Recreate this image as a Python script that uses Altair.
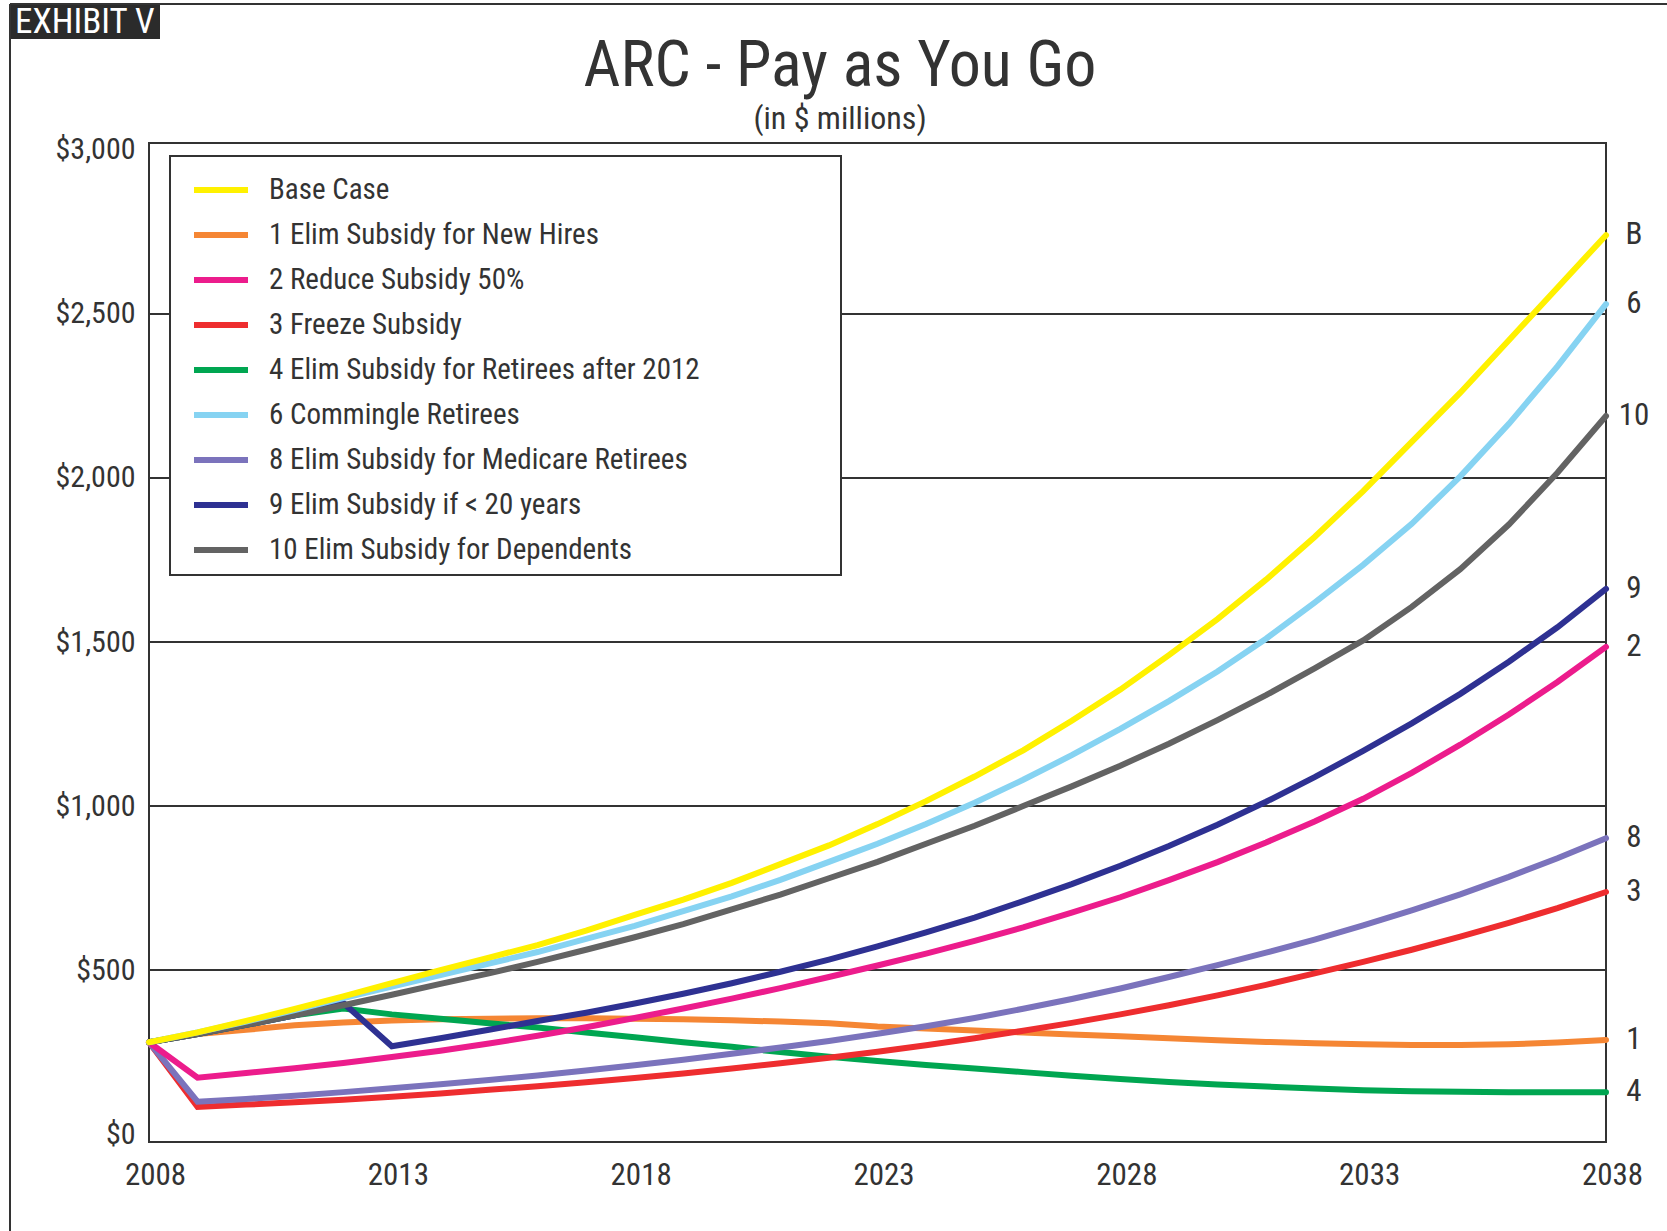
import altair as alt
import pandas as pd

FONT = "Liberation Sans Narrow, Roboto Condensed, DejaVu Sans Condensed, Arial Narrow, Liberation Sans, sans-serif"
INK = "#333333"

years = list(range(2008, 2039))

series_names = [
    "Base Case",
    "1 Elim Subsidy for New Hires",
    "2 Reduce Subsidy 50%",
    "3 Freeze Subsidy",
    "4 Elim Subsidy for Retirees after 2012",
    "6 Commingle Retirees",
    "8 Elim Subsidy for Medicare Retirees",
    "9 Elim Subsidy if < 20 years",
    "10 Elim Subsidy for Dependents",
]
end_labels = ["B", "1", "2", "3", "4", "6", "8", "9", "10"]
colors = ["#FFF100", "#F58634", "#EC1C8C", "#EE2D2F", "#00A651",
          "#86D3F2", "#7B73BC", "#2E3192", "#636363"]

base_case = [280, 310, 345, 382, 420, 460, 500, 538, 576, 620, 668, 715, 766, 823, 880, 945,
             1015, 1090, 1170, 1260, 1355, 1460, 1570, 1690, 1820, 1960, 2110, 2260, 2420, 2580, 2740]
opt1 = [280, 305, 318, 332, 340, 346, 350, 352, 353, 353, 352, 350, 347, 343, 338, 328,
        322, 316, 310, 304, 298, 292, 286, 281, 277, 274, 272, 272, 274, 279, 287]
opt2 = [280, 172, 186, 201, 217, 235, 254, 276, 300, 326, 354, 383, 413, 445, 479, 514,
        550, 589, 630, 675, 722, 774, 829, 889, 953, 1022, 1101, 1187, 1279, 1378, 1485]
opt3 = [280, 83, 90, 97, 105, 114, 124, 135, 146, 158, 171, 185, 200, 216, 233, 251,
        271, 292, 315, 339, 365, 393, 423, 455, 490, 525, 562, 602, 644, 689, 738]
opt4 = [280, 305, 333, 362, 383, 365, 352, 338, 325, 310, 295, 280, 266, 250, 236, 223,
        211, 200, 189, 178, 168, 159, 151, 145, 139, 134, 131, 129, 128, 128, 128]
opt6 = [280, 310, 343, 378, 415, 450, 485, 520, 555, 595, 635, 680, 725, 775, 830, 885,
        945, 1010, 1080, 1155, 1235, 1320, 1410, 1510, 1620, 1735, 1860, 2005, 2165, 2340, 2530]
opt8 = [280, 99, 107, 117, 128, 140, 152, 165, 179, 194, 210, 227, 245, 264, 284, 306,
        329, 354, 382, 412, 444, 479, 515, 553, 593, 636, 682, 731, 784, 841, 902]
opt9 = [280, 305, 333, 362, 400, 268, 292, 318, 345, 370, 398, 428, 460, 495, 532, 572,
        615, 660, 710, 762, 818, 878, 943, 1013, 1088, 1168, 1252, 1342, 1440, 1545, 1662]
opt10 = [280, 305, 333, 362, 393, 425, 458, 490, 525, 562, 600, 640, 685, 730, 780, 830,
         885, 940, 1000, 1060, 1123, 1190, 1262, 1338, 1420, 1505, 1607, 1722, 1858, 2016, 2189]

values_by_series = [base_case, opt1, opt2, opt3, opt4, opt6, opt8, opt9, opt10]

x_ticks = [2008, 2013, 2018, 2023, 2028, 2033, 2038]
y_ticks = [0, 500, 1000, 1500, 2000, 2500, 3000]
grid_values = [500, 1000, 1500, 2000, 2500]

# drawing order (bottom -> top)
draw_order = [1, 4, 3, 6, 2, 7, 8, 5, 0]
rows = []
for i in draw_order:
    for yr, v in zip(years, values_by_series[i]):
        rows.append({"year": yr, "value": v, "series": series_names[i], "tag": end_labels[i]})
df = pd.DataFrame(rows)

x_enc = alt.X("year:Q",
              scale=alt.Scale(domain=[2008, 2038], nice=False, zero=False),
              axis=alt.Axis(values=x_ticks, format="d", title=None, grid=False, ticks=False,
                            domain=False, labelFontSize=31, labelFont=FONT, labelColor=INK,
                            labelPadding=18, labelFlush=False, labelOffset=6))
y_enc = alt.Y("value:Q",
              scale=alt.Scale(domain=[-24, 3021], nice=False, zero=False),
              axis=alt.Axis(values=y_ticks, format="$,.0f", title=None, grid=False, ticks=False,
                            domain=False, labelFontSize=30, labelFont=FONT, labelColor=INK,
                            labelPadding=14))

grid = alt.Chart(pd.DataFrame({"value": grid_values})).mark_rule(
    color=INK, strokeWidth=2).encode(y=alt.Y("value:Q"))

one = pd.DataFrame({"a": [0]})

legend_box = alt.Chart(one).mark_rect(fill="white", stroke=INK, strokeWidth=2).encode(
    x=alt.value(21), x2=alt.value(692), y=alt.value(13), y2=alt.value(432))

lines = alt.Chart(df).mark_line(strokeWidth=6, strokeCap="round", strokeJoin="miter").encode(
    x=x_enc, y=y_enc,
    color=alt.Color("series:N",
                    scale=alt.Scale(domain=series_names, range=colors),
                    legend=alt.Legend(title=None, orient="none", legendX=42, legendY=17,
                                      symbolType="stroke", symbolSize=2916,
                                      symbolStrokeWidth=6, labelFontSize=29, labelFont=FONT,
                                      labelColor=INK, labelOffset=18, rowPadding=0,
                                      padding=0, labelLimit=0)),
    detail="series:N",
)

end_text = alt.Chart(df[df["year"] == 2038]).mark_text(
    align="center", baseline="middle", dx=28, fontSize=31, font=FONT, color=INK).encode(
    x="year:Q", y="value:Q", text="tag:N")

title_txt = alt.Chart(one).mark_text(
    text="ARC - Pay as You Go", fontSize=64, font=FONT, color=INK,
    align="center", baseline="alphabetic").encode(x=alt.value(691), y=alt.value(-57))
subtitle_txt = alt.Chart(one).mark_text(
    text="(in $ millions)", fontSize=32, font=FONT, color=INK,
    align="center", baseline="alphabetic").encode(x=alt.value(691), y=alt.value(-14))

frame_top = alt.Chart(one).mark_rule(color=INK, strokeWidth=2).encode(
    x=alt.value(-139), x2=alt.value(1518), y=alt.value(-139))
frame_left = alt.Chart(one).mark_rule(color=INK, strokeWidth=2).encode(
    x=alt.value(-139), y=alt.value(-139), y2=alt.value(1088))
exhibit_box = alt.Chart(one).mark_rect(fill="#2b2b2b").encode(
    x=alt.value(-138), x2=alt.value(11), y=alt.value(-138), y2=alt.value(-104))
exhibit_txt = alt.Chart(one).mark_text(
    text="EXHIBIT V", fontSize=35, font=FONT, color="white",
    align="left", baseline="middle").encode(x=alt.value(-134), y=alt.value(-121))

chart = alt.layer(
    grid, legend_box, lines, end_text, title_txt, subtitle_txt,
    frame_top, frame_left, exhibit_box, exhibit_txt,
).properties(
    width=1457, height=999,
    padding={"left": 149, "top": 143, "right": 61, "bottom": 89},
    autosize=alt.AutoSizeParams(type="none"),
    background="white",
).configure_view(stroke=INK, strokeWidth=2)

chart.save("out.html", embed_options={"renderer": "svg", "actions": False})
